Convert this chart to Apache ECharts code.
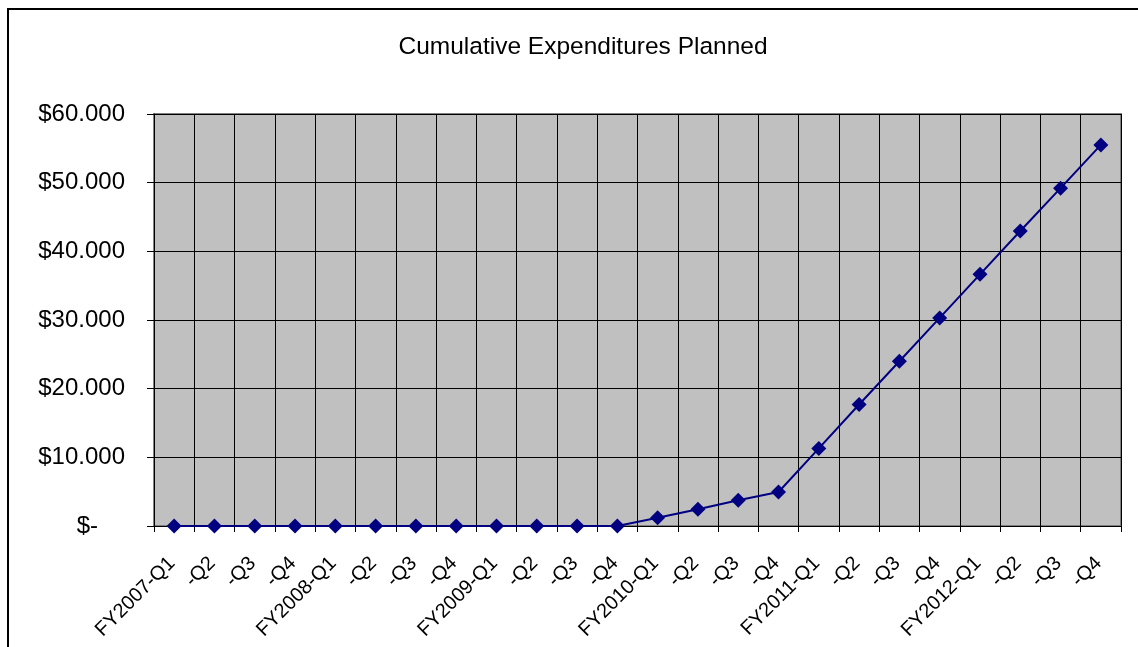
<!DOCTYPE html>
<html>
<head>
<meta charset="utf-8">
<script src="https://cdn.jsdelivr.net/npm/echarts@6/dist/echarts.min.js"></script>
<style>
  html, body { margin: 0; padding: 0; background: #fff; }
  #frame { position: absolute; left: 7px; top: 8px; width: 1131px; height: 639px;
           border-top: 2px solid #000; border-left: 2px solid #000; box-sizing: border-box; }
  #chart { position: absolute; left: 0; top: 0; width: 1138px; height: 647px; }
</style>
</head>
<body>
<div id="frame"></div>
<div id="chart"></div>
<script>
const categories = [
  'FY2007-Q1', '-Q2', '-Q3', '-Q4',
  'FY2008-Q1', '-Q2', '-Q3', '-Q4',
  'FY2009-Q1', '-Q2', '-Q3', '-Q4',
  'FY2010-Q1', '-Q2', '-Q3', '-Q4',
  'FY2011-Q1', '-Q2', '-Q3', '-Q4',
  'FY2012-Q1', '-Q2', '-Q3', '-Q4'
];
const cumulativeExpenditures = [
  0, 0, 0, 0,
  0, 0, 0, 0,
  0, 0, 0, 0,
  1.21, 2.43, 3.74, 4.95,
  11.3, 17.7, 24.0, 30.3,
  36.65, 42.96, 49.2, 55.5
];
const yTicks = { min: 0, max: 60, interval: 10 };
const titleText = 'Cumulative Expenditures Planned';

const chart = echarts.init(document.getElementById('chart'), null, { renderer: 'canvas' });
const FONT = 'Liberation Sans, Arial, sans-serif';
chart.setOption({
  backgroundColor: 'transparent',
  animation: false,
  title: {
    text: titleText,
    left: 578, top: 30, textAlign: 'center',
    textStyle: { fontFamily: FONT, fontSize: 24.5, fontWeight: 'normal', color: '#000' }
  },
  grid: {
    left: 154, right: 17, top: 114, bottom: 121,
    show: true, backgroundColor: '#C0C0C0', borderColor: '#808080', borderWidth: 2
  },
  xAxis: {
    type: 'category',
    data: categories,
    boundaryGap: true,
    axisLine: { show: true, lineStyle: { color: '#000', width: 1 } },
    axisTick: { show: true, interval: 0, length: 6, lineStyle: { color: '#000' } },
    splitLine: { show: true, interval: 0, lineStyle: { color: '#000', width: 1 } },
    axisLabel: {
      interval: 0, rotate: 45, margin: 32, padding: [0, 3, 6, 0],
      fontFamily: FONT, fontSize: 20, color: '#000'
    }
  },
  yAxis: {
    type: 'value',
    min: yTicks.min, max: yTicks.max, interval: yTicks.interval,
    axisLine: { show: true, lineStyle: { color: '#000', width: 1 } },
    axisTick: { show: true, length: 7, lineStyle: { color: '#000' } },
    splitLine: { show: true, lineStyle: { color: '#000', width: 1 } },
    axisLabel: {
      margin: 29, fontFamily: FONT, fontSize: 24, color: '#000',
      formatter: function (v) { return v === 0 ? '{z|$-}' : '$' + v.toFixed(3); },
      rich: { z: { fontFamily: FONT, fontSize: 24, color: '#000', padding: [0, 27, 0, 0] } }
    }
  },
  series: [{
    type: 'line',
    data: cumulativeExpenditures,
    symbol: 'diamond',
    symbolSize: 15,
    lineStyle: { color: '#000080', width: 2 },
    itemStyle: { color: '#000080' }
  }]
});
</script>
</body>
</html>
